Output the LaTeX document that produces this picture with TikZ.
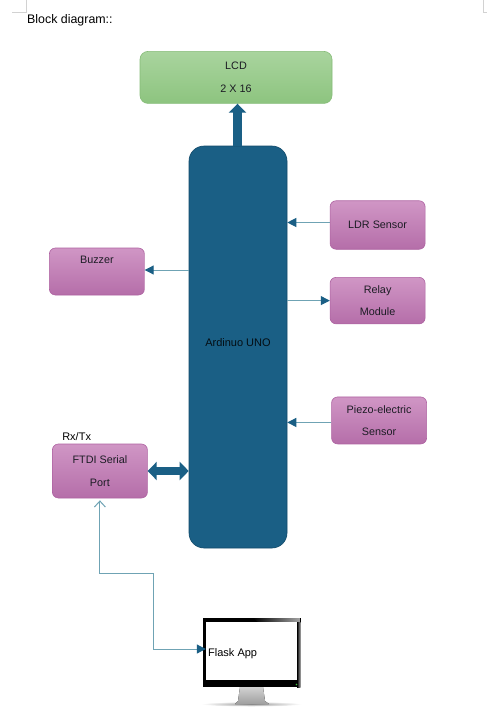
\documentclass[tikz,border=0pt]{standalone}
\usepackage{xcolor}
\usepackage{fontspec}
\setmainfont{Liberation Sans}
\usepackage{tikz}
\usetikzlibrary{positioning, arrows.meta}

\definecolor{unoblue}{HTML}{1A5F85}
\definecolor{unoedge}{HTML}{134B6B}
\definecolor{wireblue}{HTML}{6FA3B4}
\definecolor{inktext}{HTML}{1C1C24}
\definecolor{greentop}{HTML}{A9D49E}
\definecolor{greenlow}{HTML}{8DC47F}
\definecolor{greenedge}{HTML}{86BC78}
\definecolor{purpletop}{HTML}{D096C5}
\definecolor{purplelow}{HTML}{B56EA9}
\definecolor{purpleedge}{HTML}{AE62A1}

\begin{document}
\begin{tikzpicture}[
  x=1pt, y=-1pt,
  font=\fontsize{10.8}{22.5}\selectfont,
  text=inktext,
  greenbox/.style={draw=greenedge, rounded corners=8pt, minimum width=192pt,
    minimum height=52pt, align=center, inner sep=0pt, top color=greentop,
    bottom color=greenlow, line width=0.6pt},
  purplebox/.style={draw=purpleedge, rounded corners=6pt, minimum width=95pt,
    minimum height=47pt, align=center, inner sep=0pt, top color=purpletop,
    bottom color=purplelow, line width=0.6pt},
  mcu/.style={draw=unoedge, fill=unoblue, rounded corners=15pt, minimum width=98pt,
    minimum height=402pt, inner sep=0pt, line width=0.6pt},
  wire/.style={draw=wireblue, line width=1pt, -{Triangle[color=unoblue, length=9pt, width=9pt]}},
  bus/.style={draw=unoblue, line width=8.5pt},
]
  \fill[white] (0,0) rectangle (487,715);
  \useasboundingbox (0,0) rectangle (487,715);

  \draw[gray!35, line width=0.6pt] (12,12) -- (26,12) -- (26,0);
  \draw[gray!35, line width=0.6pt] (487,12) -- (483,12) -- (483,0);
  \node[anchor=west, inner sep=0pt, font=\fontsize{12.4}{14}\selectfont, text=black] (title) at (27,20) {Block diagram::};

  \node[mcu] (uno) at (238,347) {};
  \node[inner sep=0pt, font=\fontsize{11}{13}\selectfont, text=black!85!unoblue] (unotext) at (238,343) {Ardinuo UNO};
  \node[greenbox, above=42pt of uno, xshift=-2pt] (lcd) {LCD\\2 X 16};
  \node[purplebox, right=42.5pt of uno, yshift=122pt, minimum height=48.5pt] (ldr) {LDR Sensor};
  \node[purplebox, below=27.5pt of ldr, minimum height=46.5pt] (relay) {Relay\\Module};
  \node[purplebox, below=72.5pt of relay, xshift=1.5pt] (piezo) {Piezo-electric\\Sensor};
  \node[purplebox, left=44pt of uno, yshift=75.5pt] (buzzer) {Buzzer\\\mbox{}};
  \node[purplebox, left=41pt of uno, yshift=-124pt, minimum height=54pt] (ftdi) {FTDI Serial\\Port};
  \node[anchor=south west, inner sep=0pt, font=\fontsize{11}{13}\selectfont, text=black, xshift=10pt, yshift=2.5pt] (rxtx) at (ftdi.north west) {Rx/Tx};

  \shade[inner color=gray!80, outer color=white] (251.5,704) ellipse (50 and 2.5);
  \fill[top color=gray!35, bottom color=gray!75] (240,687) -- (263,687) -- (265,701) -- (269,704) -- (235,704) -- (238,701) -- cycle;
  \node[draw=none, fill=black, minimum width=97.5pt, minimum height=69.5pt, inner sep=0pt] (monitor) at (251.75,652.5) {};
  \fill[right color=gray!70, left color=black] (253,618) -- (300.5,618) -- (300.5,622) -- (258,622) -- cycle;
  \fill[left color=black, right color=gray!70] (297,622) rectangle (300.5,687);
  \node[fill=white, minimum width=91pt, minimum height=58pt, inner sep=0pt] (screen) at (251.5,651) {};
  \fill[green!50!gray] (296.5,684.5) circle (0.8);
  \node[anchor=west, inner sep=0pt, font=\fontsize{11}{13}\selectfont, text=black] (apptext) at (208,654) {Flask App};

  \coordinate (bend) at (153,573);

  \draw[bus, -{Triangle[length=9pt, width=17pt]}] (uno.north -| lcd.south) ++(1.5,0) -- ([xshift=1.5pt]lcd.south);
  \draw[bus, {Triangle[length=9pt, width=18pt]}-{Triangle[length=9pt, width=18pt]}] (ftdi.east) -- (uno.west |- ftdi.east);
  \draw[wire] ([yshift=2.5pt]ldr.west) -- ([yshift=2.5pt]ldr.west -| uno.east);
  \draw[wire] (uno.east |- relay.west) -- (relay.west);
  \draw[wire] ([yshift=-2pt]piezo.west) -- ([yshift=-2pt]piezo.west -| uno.east);
  \draw[wire] ([yshift=1.5pt]uno.west |- buzzer.east) -- ([yshift=1.5pt]buzzer.east);
  \draw[wire, {Straight Barb[color=wireblue, length=6pt, width=11pt]}-{Triangle[color=unoblue, length=9pt, width=9pt]}]
    ([yshift=-2pt]ftdi.south) |- (bend) |- ([yshift=2pt]screen.west);
\end{tikzpicture}
\end{document}
